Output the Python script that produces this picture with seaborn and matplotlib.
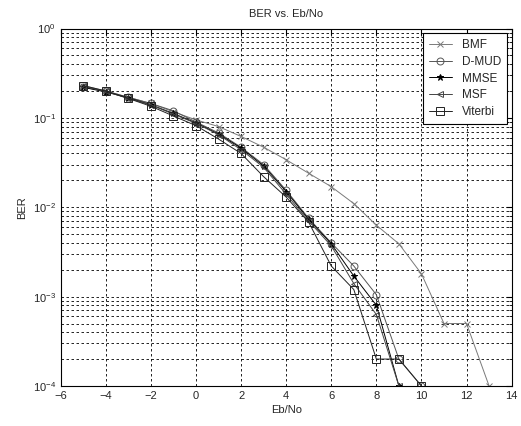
import numpy as np
import pandas as pd
import matplotlib
matplotlib.use("Agg")
import matplotlib.pyplot as plt
import seaborn as sns
from matplotlib.ticker import LogLocator, NullFormatter

# Datos (BER frente a Eb/No)
ebno_bmf = [-5, -4, -3, -2, -1, 0, 1, 2, 3, 4, 5, 6, 7, 8, 9, 10, 11, 12, 13]
ber_bmf = [0.23, 0.20, 0.17, 0.145, 0.117, 0.095, 0.080, 0.062, 0.047, 0.034,
           0.024, 0.017, 0.011, 0.0063, 0.0039, 0.0018, 5e-4, 5e-4, 1e-4]

ebno_dmud = [-5, -4, -3, -2, -1, 0, 1, 2, 3, 4, 5, 6, 7, 8, 9, 10]
ber_dmud = [0.22, 0.20, 0.17, 0.145, 0.12, 0.09, 0.068, 0.047, 0.030, 0.0155,
            0.0075, 0.0040, 0.0022, 0.00105, 2e-4, 1e-4]

ebno_mmse = [-5, -4, -3, -2, -1, 0, 1, 2, 3, 4, 5, 6, 7, 8, 9]
ber_mmse = [0.22, 0.195, 0.168, 0.14, 0.112, 0.088, 0.066, 0.046, 0.029, 0.015,
            0.0073, 0.0039, 0.0017, 0.0008, 1e-4]

ebno_msf = [-5, -4, -3, -2, -1, 0, 1, 2, 3, 4, 5, 6, 7, 8, 9]
ber_msf = [0.225, 0.198, 0.165, 0.14, 0.11, 0.087, 0.065, 0.044, 0.028, 0.014,
           0.007, 0.0037, 0.0014, 0.00063, 1e-4]

ebno_vit = [-5, -4, -3, -2, -1, 0, 1, 2, 3, 4, 5, 6, 7, 8, 9, 10]
ber_vit = [0.23, 0.20, 0.165, 0.135, 0.105, 0.082, 0.058, 0.040, 0.022, 0.013,
           0.0068, 0.0022, 0.0012, 2e-4, 2e-4, 1e-4]

series = [
    ("BMF", ebno_bmf, ber_bmf, "x", "#7a7a7a", 4),
    ("D-MUD", ebno_dmud, ber_dmud, "o", "#555555", 5),
    ("MMSE", ebno_mmse, ber_mmse, "*", "black", 5),
    ("MSF", ebno_msf, ber_msf, "<", "#444444", 5),
    ("Viterbi", ebno_vit, ber_vit, "s", "#222222", 5.5),
]

sns.set_style("white")
plt.rcParams['font.family'] = ['Liberation Sans', 'DejaVu Sans']
plt.rcParams['font.size'] = 8

fig = plt.figure(figsize=(5.21, 4.26), dpi=100)
ax = fig.add_axes([0.1165, 0.094, 0.8655, 0.839])

for nombre, x, y, marcador, color, tam in series:
    df = pd.DataFrame({"Eb/No": x, "BER": y})
    sns.lineplot(data=df, x="Eb/No", y="BER", ax=ax, color=color, linewidth=0.7,
                 marker=marcador, markersize=tam,
                 markerfacecolor="none" if marcador not in ("x", "*") else color,
                 markeredgecolor=color, markeredgewidth=0.7,
                 label=nombre, errorbar=None)

ax.set_yscale("log")
ax.set_xlim(-6, 14)
ax.set_ylim(1e-4, 1)
ax.set_xticks(np.arange(-6, 15, 2))
ax.yaxis.set_major_locator(LogLocator(base=10, numticks=10))
ax.yaxis.set_minor_locator(LogLocator(base=10, subs=np.arange(2, 10), numticks=10))
ax.yaxis.set_minor_formatter(NullFormatter())

# Rejilla discontinua estilo MATLAB
grid_kw = dict(color="black", linestyle=(0, (3, 3)), linewidth=0.6)
ax.grid(True, which="major", axis="both", **grid_kw)
ax.grid(True, which="minor", axis="y", **grid_kw)
ax.set_axisbelow(True)

ax.tick_params(which="both", direction="in", top=True, right=True, length=4,
               color="black", labelsize=8)
ax.tick_params(which="minor", length=2)
for s in ax.spines.values():
    s.set_color("black")
    s.set_linewidth(0.8)

ax.set_title("BER vs. Eb/No", fontsize=8, pad=8)
ax.set_xlabel("Eb/No", fontsize=8, labelpad=3)
ax.set_ylabel("BER", fontsize=8, labelpad=4)

leg = ax.legend(loc="upper right", fontsize=8.5, frameon=True, fancybox=False,
                borderaxespad=0.4, handlelength=2.0, labelspacing=0.4,
                borderpad=0.5, handletextpad=0.8, edgecolor="black", framealpha=1)
leg.get_frame().set_linewidth(0.8)

fig.savefig("out.png", dpi=100)
